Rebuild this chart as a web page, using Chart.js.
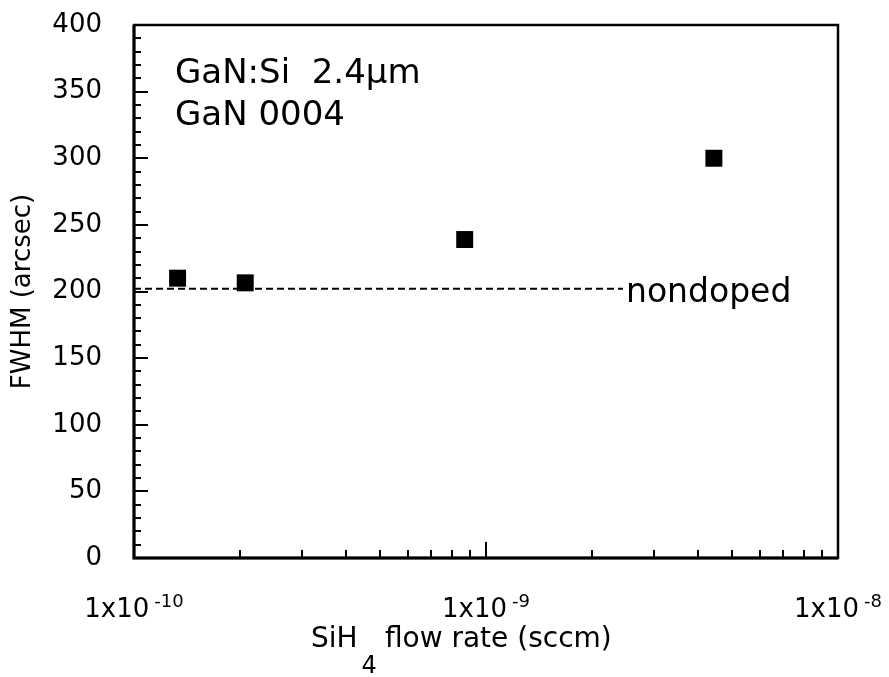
<!DOCTYPE html>
<html><head><meta charset="utf-8">
<script src="https://cdn.jsdelivr.net/npm/chart.js@4"></script>
<style>html,body{margin:0;padding:0;background:#fff;}canvas{display:block;}</style>
</head><body>
<canvas id="c" width="889" height="677"></canvas>
<script>
// ---- data ----
const flowRates = [1.33e-10, 2.07e-10, 8.7e-10, 4.44e-9];
const fwhmValues = [210, 206.5, 239, 300];
const nondopedX = [1e-10, 2.45e-9];
const nondopedY = [202, 202];
const xDecades = [1e-10, 1e-9, 1e-8];
const xDecadeExponents = ['-10', '-9', '-8'];
const yMin = 0, yMax = 400, yMajorStep = 50, yMinorStep = 10;
const annotationLines = ['GaN:Si  2.4\u00b5m', 'GaN 0004'];
const nondopedLabel = 'nondoped';
const yTitle = 'FWHM (arcsec)';
const xTitleParts = ['SiH', '4', 'flow rate (sccm)'];

const FONT = '"DejaVu Sans", sans-serif';
const TARGET_TOP = 25;

const decor = {
  id: 'decor',
  afterDraw(chart) {
    const {ctx, chartArea: a, scales: {x, y}} = chart;
    ctx.save();
    ctx.strokeStyle = '#000';
    ctx.fillStyle = '#000';
    // frame
    ctx.lineWidth = 2.5;
    ctx.strokeRect(a.left, a.top, a.right - a.left, a.bottom - a.top);
    ctx.lineWidth = 3;
    ctx.beginPath(); ctx.moveTo(a.left, a.top); ctx.lineTo(a.left, a.bottom); ctx.lineTo(a.right, a.bottom); ctx.stroke();
    // y ticks (inward)
    ctx.lineWidth = 2;
    for (let v = yMin; v <= yMax; v += yMinorStep) {
      const py = Math.round(y.getPixelForValue(v));
      const len = (v % yMajorStep === 0) ? 14 : 7;
      ctx.beginPath(); ctx.moveTo(a.left, py); ctx.lineTo(a.left + len, py); ctx.stroke();
    }
    // x ticks (inward)
    for (let i = 0; i < xDecades.length - 1; i++) {
      for (let m = 1; m <= 9; m++) {
        const v = m * xDecades[i];
        const px = Math.round(x.getPixelForValue(v));
        const len = m === 1 ? 16 : 8;
        ctx.beginPath(); ctx.moveTo(px, a.bottom); ctx.lineTo(px, a.bottom - len); ctx.stroke();
      }
    }
    // x tick labels with superscripts
    ctx.textBaseline = 'alphabetic';
    ctx.textAlign = 'left';
    xDecades.forEach((d, i) => {
      const px = x.getPixelForValue(d);
      ctx.font = '26px ' + FONT;
      const mainW = ctx.measureText('1x10').width;
      ctx.font = '18px ' + FONT;
      const supW = ctx.measureText(xDecadeExponents[i]).width;
      const gap = 5;
      const start = px - (mainW + gap + supW) / 2;
      ctx.font = '26px ' + FONT;
      ctx.fillText('1x10', start, a.bottom + 59);
      ctx.font = '18px ' + FONT;
      ctx.fillText(xDecadeExponents[i], start + mainW + gap, a.bottom + 49);
    });
    // x title with subscript
    let tx = a.left + 177;
    const tb = a.bottom + 89;
    ctx.font = '28px ' + FONT;
    ctx.fillText(xTitleParts[0], tx, tb);
    tx += ctx.measureText(xTitleParts[0]).width + 4;
    ctx.font = '24px ' + FONT;
    ctx.fillText(xTitleParts[1], tx, a.bottom + 115);
    tx += ctx.measureText(xTitleParts[1]).width + 8;
    ctx.font = '28px ' + FONT;
    ctx.fillText(xTitleParts[2], tx, tb);
    // annotation
    ctx.font = '34px ' + FONT;
    ctx.fillText(annotationLines[0], a.left + 41, a.top + 58);
    ctx.fillText(annotationLines[1], a.left + 41, a.top + 100);
    // nondoped label at end of dashed line
    ctx.font = '33px ' + FONT;
    ctx.fillText(nondopedLabel, x.getPixelForValue(nondopedX[1]) + 3, y.getPixelForValue(nondopedY[1]) + 13);
    ctx.restore();
  }
};

const chart = new Chart(document.getElementById('c'), {
  type: 'scatter',
  data: {
    datasets: [
      {
        data: flowRates.map((v, i) => ({x: v, y: fwhmValues[i]})),
        pointStyle: 'rect',
        pointRadius: 12,
        pointHoverRadius: 12,
        backgroundColor: '#000',
        borderColor: '#000',
        borderWidth: 0,
        showLine: false
      },
      {
        data: nondopedX.map((v, i) => ({x: v, y: nondopedY[i]})),
        showLine: true,
        borderColor: '#000',
        borderWidth: 2,
        borderDash: [7, 4],
        pointRadius: 0,
        fill: false
      }
    ]
  },
  options: {
    responsive: false,
    maintainAspectRatio: false,
    animation: false,
    devicePixelRatio: 1,
    layout: {padding: {top: TARGET_TOP, right: 51, left: 0, bottom: 0}},
    plugins: {legend: {display: false}, tooltip: {enabled: false}, title: {display: false}},
    scales: {
      x: {
        type: 'logarithmic',
        min: xDecades[0],
        max: xDecades[xDecades.length - 1],
        ticks: {display: false},
        grid: {display: false, drawTicks: false},
        border: {display: false},
        afterFit(s) { s.height = 119; s.paddingLeft = 0; s.paddingRight = 0; }
      },
      y: {
        type: 'linear',
        min: yMin,
        max: yMax,
        ticks: {stepSize: yMajorStep, color: '#000', padding: 32, font: {family: FONT, size: 26}},
        grid: {display: false, drawTicks: false},
        border: {display: false},
        title: {display: true, text: yTitle, color: '#000', font: {family: FONT, size: 26}, padding: {top: 8, bottom: 0}},
        afterFit(s) { s.width = 134; s.paddingTop = 0; s.paddingBottom = 0; }
      }
    }
  },
  plugins: [decor]
});
// correct any extra top offset added by the layout
const diff = chart.chartArea.top - TARGET_TOP;
if (Math.abs(diff) > 0.5) {
  chart.options.layout.padding.top = Math.max(0, TARGET_TOP - diff);
  chart.update();
}
</script>
</body></html>
